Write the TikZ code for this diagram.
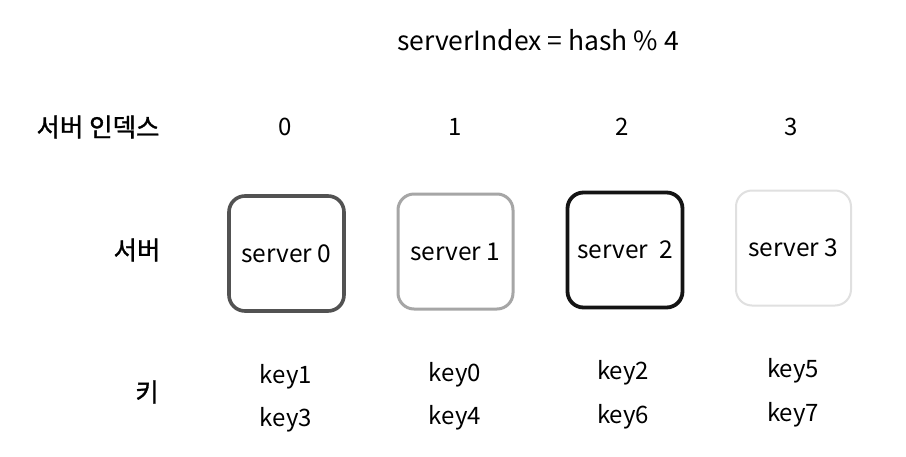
\documentclass[tikz,border=0pt]{standalone}
\usepackage{fontspec}
\setmainfont{Noto Sans CJK KR}
\newfontfamily\krbold{Noto Sans CJK KR}[FakeBold=1.2]
\begin{document}
\begin{tikzpicture}[x=1pt,y=-1pt,
  txt/.style={font=\fontsize{24}{28}\selectfont, inner sep=0pt, anchor=center},
  lab/.style={font=\fontsize{25.5}{28}\krbold, inner sep=0pt, anchor=center},
  srv/.style={minimum width=115pt, minimum height=115pt, rounded corners=16pt, inner sep=0pt,
              font=\fontsize{24.5}{28}\selectfont}]
  \useasboundingbox[fill=white] (0,0) rectangle (906,456);

  % formula
  \node[txt, font=\fontsize{26.5}{30}\selectfont] (title) at (538,40) {serverIndex = hash \% 4};

  % row labels
  \node[lab] (lidx) at (98,127) {서버 인덱스};
  \node[lab] (lsrv) at (137,250) {서버};
  \node[lab] (lkey) at (147,392) {키};

  % server indices
  \node[txt] (i0) at (285,127) {0};
  \node[txt] (i1) at (455,127) {1};
  \node[txt] (i2) at (622,127) {2};
  \node[txt] (i3) at (791,127) {3};

  % servers
  \node[srv, draw=black!68, line width=3.6pt] (s0) at (286.5,253.5) {server 0};
  \node[srv, draw=black!35, line width=3pt] (s1) at (455.5,251.5) {server 1};
  \node[srv, draw=black!92, line width=3.8pt] (s2) at (625,250) {server\ \ 2};
  \node[srv, draw=black!12, line width=2pt] (s3) at (793.5,248) {server 3};

  % keys per server
  \node[txt] (k1) at (286,377) {key1};
  \node[txt] (k3) at (286,420) {key3};
  \node[txt] (k0) at (455,375) {key0};
  \node[txt] (k4) at (455,418) {key4};
  \node[txt] (k2) at (623,373) {key2};
  \node[txt] (k6) at (623,417) {key6};
  \node[txt] (k5) at (793,371) {key5};
  \node[txt] (k7) at (793,415) {key7};
\end{tikzpicture}
\end{document}
